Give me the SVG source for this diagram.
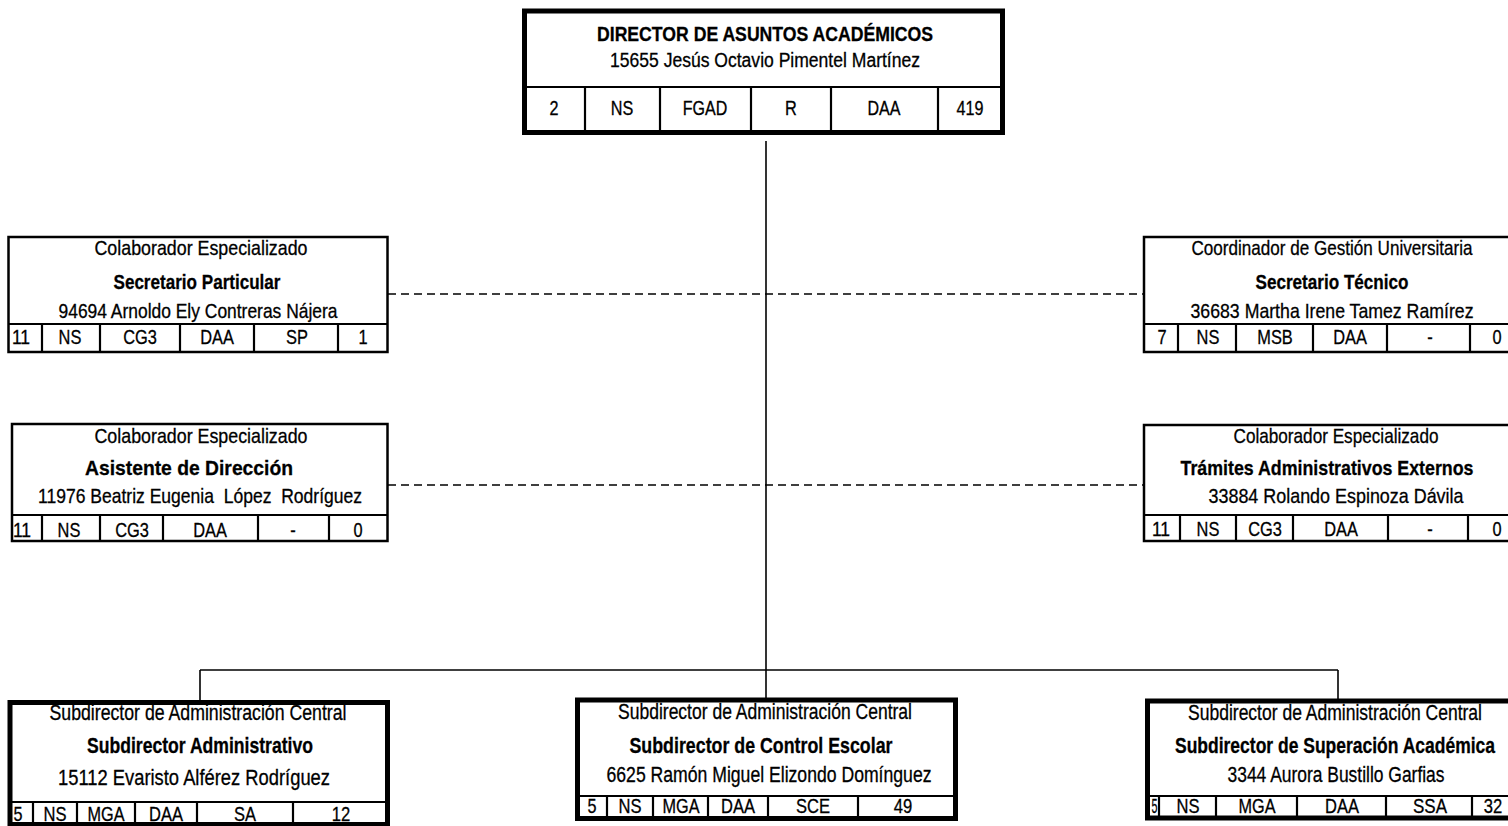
<svg xmlns="http://www.w3.org/2000/svg" width="1508" height="826" viewBox="0 0 1508 826">
<style>
text{font-family:"Liberation Sans Narrow","Liberation Sans",Arial,sans-serif;text-anchor:middle;fill:#000;stroke:#000;stroke-width:0.3}
.b{font-weight:bold}
.s18{font-size:20px}
.s19{font-size:21px}
.s20{font-size:21.5px}
.c20{font-size:21px}
.thin{fill:#fff;stroke:#000;stroke-width:2.5}
.thick{fill:#fff;stroke:#000;stroke-width:5}
.sep{stroke:#000;stroke-width:2.2}
.con{stroke:#000;stroke-width:1.6;fill:none}
.dash{stroke:#000;stroke-width:1.6;fill:none;stroke-dasharray:8 5}
</style>
<rect width="1508" height="826" fill="#fff"/>
<g id="connectors">
<line class="con" x1="766" y1="141" x2="766" y2="700"/>
<line class="con" x1="200" y1="670" x2="1338" y2="670"/>
<line class="con" x1="200" y1="670" x2="200" y2="702"/>
<line class="con" x1="1338" y1="670" x2="1338" y2="700"/>
<line class="dash" x1="388" y1="294" x2="1143" y2="294"/>
<line class="dash" x1="388" y1="485" x2="1143" y2="485"/>
</g>
<g id="director">
<rect class="thick" x="524.5" y="11" width="478" height="121.5"/>
<line class="sep" x1="524.5" y1="87" x2="1002.5" y2="87"/>
<line class="sep" x1="585" y1="87" x2="585" y2="132"/>
<line class="sep" x1="660" y1="87" x2="660" y2="132"/>
<line class="sep" x1="751" y1="87" x2="751" y2="132"/>
<line class="sep" x1="831" y1="87" x2="831" y2="132"/>
<line class="sep" x1="938" y1="87" x2="938" y2="132"/>
<text class="s18 b" x="765" y="41" textLength="336" lengthAdjust="spacingAndGlyphs">DIRECTOR DE ASUNTOS ACADÉMICOS</text>
<text class="s18" x="765" y="67" textLength="310" lengthAdjust="spacingAndGlyphs">15655 Jesús Octavio Pimentel Martínez</text>
<g class="s18">
<text x="554" y="115" textLength="9" lengthAdjust="spacingAndGlyphs">2</text>
<text x="622" y="115" textLength="22.5" lengthAdjust="spacingAndGlyphs">NS</text>
<text x="705" y="115" textLength="44.5" lengthAdjust="spacingAndGlyphs">FGAD</text>
<text x="791" y="115" textLength="11.8" lengthAdjust="spacingAndGlyphs">R</text>
<text x="884" y="115" textLength="33" lengthAdjust="spacingAndGlyphs">DAA</text>
<text x="970" y="115" textLength="27" lengthAdjust="spacingAndGlyphs">419</text>
</g>
</g>
<g id="secretario-particular">
<rect class="thin" x="8.5" y="237" width="379" height="115"/>
<line class="sep" x1="8.5" y1="324" x2="387.5" y2="324"/>
<line class="sep" x1="42" y1="324" x2="42" y2="352"/>
<line class="sep" x1="100" y1="324" x2="100" y2="352"/>
<line class="sep" x1="180" y1="324" x2="180" y2="352"/>
<line class="sep" x1="254" y1="324" x2="254" y2="352"/>
<line class="sep" x1="338" y1="324" x2="338" y2="352"/>
<text class="s19" x="201" y="255" textLength="213" lengthAdjust="spacingAndGlyphs">Colaborador Especializado</text>
<text class="s19 b" x="197" y="289" textLength="167" lengthAdjust="spacingAndGlyphs">Secretario Particular</text>
<text class="s19" x="198" y="318" textLength="279" lengthAdjust="spacingAndGlyphs">94694 Arnoldo Ely Contreras Nájera</text>
<g class="s19">
<text x="21" y="344" textLength="18.2" lengthAdjust="spacingAndGlyphs">11</text>
<text x="70" y="344" textLength="22.8" lengthAdjust="spacingAndGlyphs">NS</text>
<text x="140" y="344" textLength="33.7" lengthAdjust="spacingAndGlyphs">CG3</text>
<text x="217" y="344" textLength="33.7" lengthAdjust="spacingAndGlyphs">DAA</text>
<text x="297" y="344" textLength="21.9" lengthAdjust="spacingAndGlyphs">SP</text>
<text x="363" y="344" textLength="9.1" lengthAdjust="spacingAndGlyphs">1</text>
</g>
</g>
<g id="secretario-tecnico">
<rect class="thin" x="1144" y="237" width="381" height="115"/>
<line class="sep" x1="1144" y1="324" x2="1525" y2="324"/>
<line class="sep" x1="1178" y1="324" x2="1178" y2="352"/>
<line class="sep" x1="1236" y1="324" x2="1236" y2="352"/>
<line class="sep" x1="1313" y1="324" x2="1313" y2="352"/>
<line class="sep" x1="1387" y1="324" x2="1387" y2="352"/>
<line class="sep" x1="1470" y1="324" x2="1470" y2="352"/>
<text class="s19" x="1332" y="255" textLength="281" lengthAdjust="spacingAndGlyphs">Coordinador de Gestión Universitaria</text>
<text class="s19 b" x="1332" y="289" textLength="153" lengthAdjust="spacingAndGlyphs">Secretario Técnico</text>
<text class="s19" x="1332" y="318" textLength="283" lengthAdjust="spacingAndGlyphs">36683 Martha Irene Tamez Ramírez</text>
<g class="s19">
<text x="1162" y="344" textLength="9.1" lengthAdjust="spacingAndGlyphs">7</text>
<text x="1208" y="344" textLength="22.8" lengthAdjust="spacingAndGlyphs">NS</text>
<text x="1275" y="344" textLength="35.5" lengthAdjust="spacingAndGlyphs">MSB</text>
<text x="1350" y="344" textLength="33.7" lengthAdjust="spacingAndGlyphs">DAA</text>
<text x="1430" y="344" textLength="5.5" lengthAdjust="spacingAndGlyphs">-</text>
<text x="1497" y="344" textLength="9.1" lengthAdjust="spacingAndGlyphs">0</text>
</g>
</g>
<g id="asistente-direccion">
<rect class="thin" x="12" y="424" width="375.5" height="117"/>
<line class="sep" x1="12" y1="515" x2="387.5" y2="515"/>
<line class="sep" x1="42" y1="515" x2="42" y2="541"/>
<line class="sep" x1="100" y1="515" x2="100" y2="541"/>
<line class="sep" x1="163" y1="515" x2="163" y2="541"/>
<line class="sep" x1="258" y1="515" x2="258" y2="541"/>
<line class="sep" x1="329" y1="515" x2="329" y2="541"/>
<text class="s19" x="201" y="443" textLength="213" lengthAdjust="spacingAndGlyphs">Colaborador Especializado</text>
<text class="s19 b" x="189" y="475" textLength="208" lengthAdjust="spacingAndGlyphs">Asistente de Dirección</text>
<text class="s19" x="200" y="503" xml:space="preserve" textLength="324" lengthAdjust="spacingAndGlyphs">11976 Beatriz Eugenia  López  Rodríguez</text>
<g class="s19">
<text x="22" y="537" textLength="18.2" lengthAdjust="spacingAndGlyphs">11</text>
<text x="69" y="537" textLength="22.8" lengthAdjust="spacingAndGlyphs">NS</text>
<text x="132" y="537" textLength="33.7" lengthAdjust="spacingAndGlyphs">CG3</text>
<text x="210" y="537" textLength="33.7" lengthAdjust="spacingAndGlyphs">DAA</text>
<text x="293" y="537" textLength="5.5" lengthAdjust="spacingAndGlyphs">-</text>
<text x="358" y="537" textLength="9.1" lengthAdjust="spacingAndGlyphs">0</text>
</g>
</g>
<g id="tramites-externos">
<rect class="thin" x="1144" y="425" width="381" height="116"/>
<line class="sep" x1="1144" y1="515" x2="1525" y2="515"/>
<line class="sep" x1="1180" y1="515" x2="1180" y2="541"/>
<line class="sep" x1="1236" y1="515" x2="1236" y2="541"/>
<line class="sep" x1="1293" y1="515" x2="1293" y2="541"/>
<line class="sep" x1="1388" y1="515" x2="1388" y2="541"/>
<line class="sep" x1="1468" y1="515" x2="1468" y2="541"/>
<text class="s19" x="1336" y="443" textLength="205" lengthAdjust="spacingAndGlyphs">Colaborador Especializado</text>
<text class="s19 b" x="1327" y="475" textLength="293" lengthAdjust="spacingAndGlyphs">Trámites Administrativos Externos</text>
<text class="s19" x="1336" y="503" textLength="255" lengthAdjust="spacingAndGlyphs">33884 Rolando Espinoza Dávila</text>
<g class="s19">
<text x="1161" y="536" textLength="18.2" lengthAdjust="spacingAndGlyphs">11</text>
<text x="1208" y="536" textLength="22.8" lengthAdjust="spacingAndGlyphs">NS</text>
<text x="1265" y="536" textLength="33.7" lengthAdjust="spacingAndGlyphs">CG3</text>
<text x="1341" y="536" textLength="33.7" lengthAdjust="spacingAndGlyphs">DAA</text>
<text x="1430" y="536" textLength="5.5" lengthAdjust="spacingAndGlyphs">-</text>
<text x="1497" y="536" textLength="9.1" lengthAdjust="spacingAndGlyphs">0</text>
</g>
</g>
<g id="subdirector-administrativo">
<rect class="thick" x="10" y="702.5" width="377.5" height="122"/>
<line class="sep" x1="10" y1="802" x2="387.5" y2="802"/>
<line class="sep" x1="33" y1="802" x2="33" y2="824"/>
<line class="sep" x1="77" y1="802" x2="77" y2="824"/>
<line class="sep" x1="135" y1="802" x2="135" y2="824"/>
<line class="sep" x1="197" y1="802" x2="197" y2="824"/>
<line class="sep" x1="293" y1="802" x2="293" y2="824"/>
<text class="s20" x="198" y="720" textLength="297" lengthAdjust="spacingAndGlyphs">Subdirector de Administración Central</text>
<text class="s20 b" x="200" y="753" textLength="226" lengthAdjust="spacingAndGlyphs">Subdirector Administrativo</text>
<text class="s20" x="194" y="785" textLength="272" lengthAdjust="spacingAndGlyphs">15112 Evaristo Alférez Rodríguez</text>
<g class="c20">
<text x="18" y="821" textLength="9" lengthAdjust="spacingAndGlyphs">5</text>
<text x="55" y="821" textLength="23" lengthAdjust="spacingAndGlyphs">NS</text>
<text x="106" y="821" textLength="37" lengthAdjust="spacingAndGlyphs">MGA</text>
<text x="166" y="821" textLength="34" lengthAdjust="spacingAndGlyphs">DAA</text>
<text x="245" y="821" textLength="22" lengthAdjust="spacingAndGlyphs">SA</text>
<text x="341" y="821" textLength="18.5" lengthAdjust="spacingAndGlyphs">12</text>
</g>
</g>
<g id="subdirector-control-escolar">
<rect class="thick" x="577.5" y="700" width="378" height="118.5"/>
<line class="sep" x1="577.5" y1="796" x2="955.5" y2="796"/>
<line class="sep" x1="607" y1="796" x2="607" y2="818"/>
<line class="sep" x1="653" y1="796" x2="653" y2="818"/>
<line class="sep" x1="708" y1="796" x2="708" y2="818"/>
<line class="sep" x1="768" y1="796" x2="768" y2="818"/>
<line class="sep" x1="858" y1="796" x2="858" y2="818"/>
<text class="s20" x="765" y="719" textLength="294" lengthAdjust="spacingAndGlyphs">Subdirector de Administración Central</text>
<text class="s20 b" x="761" y="753" textLength="263" lengthAdjust="spacingAndGlyphs">Subdirector de Control Escolar</text>
<text class="s20" x="769" y="782" textLength="325" lengthAdjust="spacingAndGlyphs">6625 Ramón Miguel Elizondo Domínguez</text>
<g class="c20">
<text x="592" y="813" textLength="9" lengthAdjust="spacingAndGlyphs">5</text>
<text x="630" y="813" textLength="23" lengthAdjust="spacingAndGlyphs">NS</text>
<text x="681" y="813" textLength="37" lengthAdjust="spacingAndGlyphs">MGA</text>
<text x="738" y="813" textLength="34" lengthAdjust="spacingAndGlyphs">DAA</text>
<text x="813" y="813" textLength="34" lengthAdjust="spacingAndGlyphs">SCE</text>
<text x="903" y="813" textLength="18.5" lengthAdjust="spacingAndGlyphs">49</text>
</g>
</g>
<g id="subdirector-superacion-academica">
<rect class="thick" x="1147.5" y="701" width="378" height="117"/>
<line class="sep" x1="1147.5" y1="796" x2="1525" y2="796"/>
<line class="sep" x1="1159" y1="796" x2="1159" y2="818"/>
<line class="sep" x1="1216" y1="796" x2="1216" y2="818"/>
<line class="sep" x1="1297" y1="796" x2="1297" y2="818"/>
<line class="sep" x1="1386" y1="796" x2="1386" y2="818"/>
<line class="sep" x1="1472" y1="796" x2="1472" y2="818"/>
<text class="s20" x="1335" y="720" textLength="294" lengthAdjust="spacingAndGlyphs">Subdirector de Administración Central</text>
<text class="s20 b" x="1335" y="753" textLength="320" lengthAdjust="spacingAndGlyphs">Subdirector de Superación Académica</text>
<text class="s20" x="1336" y="782" textLength="217" lengthAdjust="spacingAndGlyphs">3344 Aurora Bustillo Garfias</text>
<g class="c20">
<text x="1154.5" y="813" textLength="6" lengthAdjust="spacingAndGlyphs">5</text>
<text x="1188" y="813" textLength="23" lengthAdjust="spacingAndGlyphs">NS</text>
<text x="1257" y="813" textLength="37" lengthAdjust="spacingAndGlyphs">MGA</text>
<text x="1342" y="813" textLength="34" lengthAdjust="spacingAndGlyphs">DAA</text>
<text x="1430" y="813" textLength="34" lengthAdjust="spacingAndGlyphs">SSA</text>
<text x="1493" y="813" textLength="18.5" lengthAdjust="spacingAndGlyphs">32</text>
</g>
</g>
</svg>
